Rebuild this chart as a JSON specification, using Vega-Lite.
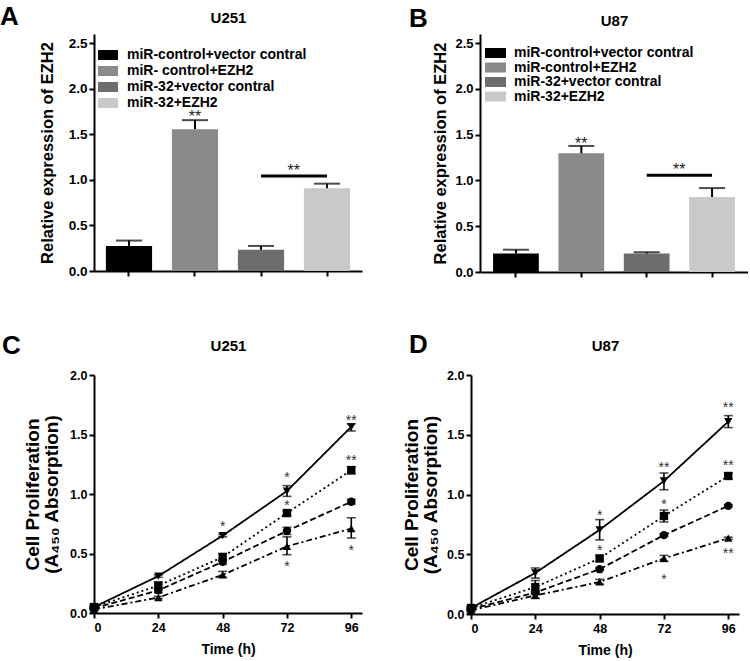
{
  "$schema": "https://vega.github.io/schema/vega-lite/v6.json",
  "padding": {"left": 0, "top": 4, "right": 0, "bottom": 0},
  "background": "white",
  "spacing": 53,
  "resolve": {"scale": {"color": "independent", "shape": "independent", "strokeDash": "independent"}, "legend": {"color": "independent", "shape": "independent", "strokeDash": "independent"}},
  "config": {
    "font": "Liberation Sans",
    "view": {"stroke": null},
    "axis": {
      "domainColor": "black", "domainWidth": 2, "tickColor": "black", "tickWidth": 2, "tickSize": 5,
      "labelFont": "Liberation Sans", "labelFontWeight": "bold", "labelColor": "black", "labelPadding": 2,
      "titleFont": "Liberation Sans", "titleFontWeight": "bold", "titleColor": "black", "grid": false
    },
    "legend": {"labelFont": "Liberation Sans", "labelFontWeight": "bold", "labelColor": "black", "labelFontSize": 14, "padding": 0, "labelLimit": 400},
    "title": {"font": "Liberation Sans", "fontWeight": "bold", "color": "black", "fontSize": 26, "anchor": "start", "frame": "group", "offset": 0, "baseline": "alphabetic"}
  },
  "datasets": {
    "barA": [
      {"group": "miR-control+vector contral", "value": 0.275, "hi": 0.334},
      {"group": "miR- control+EZH2", "value": 1.556, "hi": 1.655},
      {"group": "miR-32+vector contral", "value": 0.232, "hi": 0.275},
      {"group": "miR-32+EZH2", "value": 0.908, "hi": 0.958}
    ],
    "barB": [
      {"group": "miR-control+vector contral", "value": 0.202, "hi": 0.244},
      {"group": "miR-control+EZH2", "value": 1.297, "hi": 1.377},
      {"group": "miR-32+vector contral", "value": 0.202, "hi": 0.216},
      {"group": "miR-32+EZH2", "value": 0.819, "hi": 0.917}
    ],
    "lineC": [
      {"group": "miR-control+vector contral", "time": 0, "value": 0.04, "lo": 0.03, "hi": 0.05},
      {"group": "miR-control+vector contral", "time": 24, "value": 0.19, "lo": 0.17, "hi": 0.21},
      {"group": "miR-control+vector contral", "time": 48, "value": 0.43, "lo": 0.41, "hi": 0.45},
      {"group": "miR-control+vector contral", "time": 72, "value": 0.69, "lo": 0.66, "hi": 0.72},
      {"group": "miR-control+vector contral", "time": 96, "value": 0.935, "lo": 0.915, "hi": 0.955},
      {"group": "miR-32+EZH2", "time": 0, "value": 0.05, "lo": 0.04, "hi": 0.06},
      {"group": "miR-32+EZH2", "time": 24, "value": 0.23, "lo": 0.2, "hi": 0.26},
      {"group": "miR-32+EZH2", "time": 48, "value": 0.47, "lo": 0.44, "hi": 0.5},
      {"group": "miR-32+EZH2", "time": 72, "value": 0.84, "lo": 0.82, "hi": 0.86},
      {"group": "miR-32+EZH2", "time": 96, "value": 1.2, "lo": 1.17, "hi": 1.23},
      {"group": "miR-32+vector contral", "time": 0, "value": 0.03, "lo": 0.02, "hi": 0.04},
      {"group": "miR-32+vector contral", "time": 24, "value": 0.13, "lo": 0.12, "hi": 0.14},
      {"group": "miR-32+vector contral", "time": 48, "value": 0.32, "lo": 0.3, "hi": 0.35},
      {"group": "miR-32+vector contral", "time": 72, "value": 0.56, "lo": 0.49, "hi": 0.64},
      {"group": "miR-32+vector contral", "time": 96, "value": 0.71, "lo": 0.63, "hi": 0.8},
      {"group": "miR-control+EZH2", "time": 0, "value": 0.05, "lo": 0.04, "hi": 0.06},
      {"group": "miR-control+EZH2", "time": 24, "value": 0.31, "lo": 0.3, "hi": 0.32},
      {"group": "miR-control+EZH2", "time": 48, "value": 0.65, "lo": 0.64, "hi": 0.66},
      {"group": "miR-control+EZH2", "time": 72, "value": 1.025, "lo": 0.98, "hi": 1.07},
      {"group": "miR-control+EZH2", "time": 96, "value": 1.565, "lo": 1.53, "hi": 1.59}
    ],
    "lineD": [
      {"group": "miR-control+vector contral", "time": 0, "value": 0.04, "lo": 0.03, "hi": 0.05},
      {"group": "miR-control+vector contral", "time": 24, "value": 0.18, "lo": 0.17, "hi": 0.19},
      {"group": "miR-control+vector contral", "time": 48, "value": 0.375, "lo": 0.365, "hi": 0.385},
      {"group": "miR-control+vector contral", "time": 72, "value": 0.66, "lo": 0.65, "hi": 0.67},
      {"group": "miR-control+vector contral", "time": 96, "value": 0.905, "lo": 0.895, "hi": 0.915},
      {"group": "miR-32+EZH2", "time": 0, "value": 0.05, "lo": 0.04, "hi": 0.06},
      {"group": "miR-32+EZH2", "time": 24, "value": 0.225, "lo": 0.17, "hi": 0.28},
      {"group": "miR-32+EZH2", "time": 48, "value": 0.465, "lo": 0.44, "hi": 0.49},
      {"group": "miR-32+EZH2", "time": 72, "value": 0.82, "lo": 0.77, "hi": 0.87},
      {"group": "miR-32+EZH2", "time": 96, "value": 1.155, "lo": 1.13, "hi": 1.18},
      {"group": "miR-32+vector contral", "time": 0, "value": 0.03, "lo": 0.02, "hi": 0.04},
      {"group": "miR-32+vector contral", "time": 24, "value": 0.155, "lo": 0.13, "hi": 0.18},
      {"group": "miR-32+vector contral", "time": 48, "value": 0.268, "lo": 0.25, "hi": 0.29},
      {"group": "miR-32+vector contral", "time": 72, "value": 0.465, "lo": 0.44, "hi": 0.49},
      {"group": "miR-32+vector contral", "time": 96, "value": 0.634, "lo": 0.625, "hi": 0.643},
      {"group": "miR-control+EZH2", "time": 0, "value": 0.05, "lo": 0.04, "hi": 0.06},
      {"group": "miR-control+EZH2", "time": 24, "value": 0.344, "lo": 0.3, "hi": 0.385},
      {"group": "miR-control+EZH2", "time": 48, "value": 0.704, "lo": 0.62, "hi": 0.79},
      {"group": "miR-control+EZH2", "time": 72, "value": 1.113, "lo": 1.04, "hi": 1.18},
      {"group": "miR-control+EZH2", "time": 96, "value": 1.61, "lo": 1.56, "hi": 1.66}
    ],
    "starsC": [
      {"time": 48, "y": 0.75, "label": "*"},
      {"time": 72, "y": 1.16, "label": "*"},
      {"time": 72, "y": 0.925, "label": "*"},
      {"time": 72, "y": 0.41, "label": "*"},
      {"time": 96, "y": 1.64, "label": "**"},
      {"time": 96, "y": 1.3, "label": "**"},
      {"time": 96, "y": 0.55, "label": "*"}
    ],
    "starsD": [
      {"time": 48, "y": 0.845, "label": "*"},
      {"time": 48, "y": 0.55, "label": "*"},
      {"time": 72, "y": 1.25, "label": "**"},
      {"time": 72, "y": 0.94, "label": "*"},
      {"time": 72, "y": 0.31, "label": "*"},
      {"time": 96, "y": 1.746, "label": "**"},
      {"time": 96, "y": 1.26, "label": "**"},
      {"time": 96, "y": 0.527, "label": "**"}
    ]
  },
  "vconcat": [
    {
      "spacing": 47,
      "resolve": {"scale": {"color": "independent", "shape": "independent", "strokeDash": "independent"}, "legend": {"color": "independent", "shape": "independent", "strokeDash": "independent"}},
      "hconcat": [
        {
          "width": 268, "height": 237,
          "title": {"text": "A", "dx": -94, "dy": 24},
          "resolve": {"axis": {"x": "independent"}},
          "layer": [
            {
              "data": {"name": "barA"},
              "mark": {"type": "bar"},
              "encoding": {
                "x": {"field": "group", "type": "nominal", "scale": {"domain": ["miR-control+vector contral", "miR- control+EZH2", "miR-32+vector contral", "miR-32+EZH2"], "paddingInner": 0.3, "paddingOuter": 0.18}, "axis": {"orient": "bottom", "labels": false, "title": null}},
                "y": {"field": "value", "type": "quantitative", "scale": {"domain": [0, 2.5]}, "axis": {"values": [0, 0.5, 1, 1.5, 2, 2.5], "format": ".1f", "labelFontSize": 13.5, "title": "Relative expression of EZH2", "titleFontSize": 16.5, "titlePadding": 13}},
                "color": {"field": "group", "type": "nominal", "scale": {"domain": ["miR-control+vector contral", "miR- control+EZH2", "miR-32+vector contral", "miR-32+EZH2"], "range": ["#000000", "#8a8a8a", "#6d6d6d", "#c9c9c9"]}, "legend": {"title": null, "orient": "none", "legendX": 7, "legendY": 14, "symbolType": "M-2,-1H2V1H-2Z", "symbolSize": 100, "symbolStrokeWidth": 0, "labelOffset": 12, "rowPadding": 2}}
              }
            },
            {
              "data": {"name": "barA"},
              "mark": {"type": "rule", "strokeWidth": 2, "color": "black"},
              "encoding": {
                "x": {"field": "group", "type": "nominal", "axis": {"orient": "top", "labels": false, "ticks": false, "domain": false, "title": "U251", "titleFontSize": 15, "titlePadding": 9}},
                "y": {"field": "value", "type": "quantitative"},
                "y2": {"field": "hi"}
              }
            },
            {
              "data": {"name": "barA"},
              "mark": {"type": "tick", "thickness": 2, "size": 26, "color": "black", "orient": "horizontal"},
              "encoding": {
                "x": {"field": "group", "type": "nominal", "axis": null},
                "y": {"field": "hi", "type": "quantitative"}
              }
            },
            {
              "data": {"values": [{"group": "miR- control+EZH2", "y": 1.73, "label": "**"}]},
              "mark": {"type": "text", "fontSize": 16, "color": "#222222", "baseline": "middle", "dy": 4},
              "encoding": {
                "x": {"field": "group", "type": "nominal", "axis": null},
                "y": {"field": "y", "type": "quantitative"},
                "text": {"field": "label"}
              }
            },
            {
              "data": {"values": [{"from": "miR-32+vector contral", "to": "miR-32+EZH2", "y": 1.042}]},
              "mark": {"type": "rule", "strokeWidth": 3, "color": "black"},
              "encoding": {
                "x": {"field": "from", "type": "nominal", "axis": null},
                "x2": {"field": "to"},
                "y": {"field": "y", "type": "quantitative"}
              }
            },
            {
              "data": {"values": [{"group": "miR-32+vector contral", "y": 1.14, "label": "**"}]},
              "mark": {"type": "text", "fontSize": 16, "color": "#222222", "baseline": "middle", "dy": 4},
              "encoding": {
                "x": {"field": "group", "type": "nominal", "bandPosition": 1.21, "axis": null},
                "y": {"field": "y", "type": "quantitative"},
                "text": {"field": "label"}
              }
            }
          ]
        },
        {
          "width": 268, "height": 238,
          "title": {"text": "B", "dx": -71, "dy": 23},
          "resolve": {"axis": {"x": "independent"}},
          "layer": [
            {
              "data": {"name": "barB"},
              "mark": {"type": "bar"},
              "encoding": {
                "x": {"field": "group", "type": "nominal", "scale": {"domain": ["miR-control+vector contral", "miR-control+EZH2", "miR-32+vector contral", "miR-32+EZH2"], "paddingInner": 0.3, "paddingOuter": 0.2}, "axis": {"orient": "bottom", "labels": false, "title": null}},
                "y": {"field": "value", "type": "quantitative", "scale": {"domain": [0, 2.5]}, "axis": {"values": [0, 0.5, 1, 1.5, 2, 2.5], "format": ".1f", "labelFontSize": 13, "title": "Relative expression of EZH2", "titleFontSize": 16.5, "titlePadding": 6}},
                "color": {"field": "group", "type": "nominal", "scale": {"domain": ["miR-control+vector contral", "miR-control+EZH2", "miR-32+vector contral", "miR-32+EZH2"], "range": ["#000000", "#8a8a8a", "#6d6d6d", "#c9c9c9"]}, "legend": {"title": null, "orient": "none", "legendX": 8.5, "legendY": 12, "symbolType": "M-2.1,-1H2.1V1H-2.1Z", "symbolSize": 100, "symbolStrokeWidth": 0, "labelOffset": 11.5, "rowPadding": 0.5}}
              }
            },
            {
              "data": {"name": "barB"},
              "mark": {"type": "rule", "strokeWidth": 2, "color": "black"},
              "encoding": {
                "x": {"field": "group", "type": "nominal", "axis": {"orient": "top", "labels": false, "ticks": false, "domain": false, "title": "U87", "titleFontSize": 15, "titlePadding": 6}},
                "y": {"field": "value", "type": "quantitative"},
                "y2": {"field": "hi"}
              }
            },
            {
              "data": {"name": "barB"},
              "mark": {"type": "tick", "thickness": 2, "size": 26, "color": "black", "orient": "horizontal"},
              "encoding": {
                "x": {"field": "group", "type": "nominal", "axis": null},
                "y": {"field": "hi", "type": "quantitative"}
              }
            },
            {
              "data": {"values": [{"group": "miR-control+EZH2", "y": 1.44, "label": "**"}]},
              "mark": {"type": "text", "fontSize": 16, "color": "#222222", "baseline": "middle", "dy": 4},
              "encoding": {
                "x": {"field": "group", "type": "nominal", "axis": null},
                "y": {"field": "y", "type": "quantitative"},
                "text": {"field": "label"}
              }
            },
            {
              "data": {"values": [{"from": "miR-32+vector contral", "to": "miR-32+EZH2", "y": 1.056}]},
              "mark": {"type": "rule", "strokeWidth": 3, "color": "black"},
              "encoding": {
                "x": {"field": "from", "type": "nominal", "axis": null},
                "x2": {"field": "to"},
                "y": {"field": "y", "type": "quantitative"}
              }
            },
            {
              "data": {"values": [{"group": "miR-32+vector contral", "y": 1.16, "label": "**"}]},
              "mark": {"type": "text", "fontSize": 16, "color": "#222222", "baseline": "middle", "dy": 4},
              "encoding": {
                "x": {"field": "group", "type": "nominal", "bandPosition": 1.21, "axis": null},
                "y": {"field": "y", "type": "quantitative"},
                "text": {"field": "label"}
              }
            }
          ]
        }
      ]
    },
    {
      "spacing": 40,
      "resolve": {"scale": {"color": "independent", "shape": "independent", "strokeDash": "independent"}, "legend": {"color": "independent", "shape": "independent", "strokeDash": "independent"}},
      "hconcat": [
        {
          "width": 268, "height": 238,
          "title": {"text": "C", "dx": -92, "dy": 25},
          "resolve": {"axis": {"x": "independent"}},
          "layer": [
            {
              "data": {"name": "lineC"},
              "mark": {"type": "line", "strokeWidth": 1.8, "color": "black"},
              "encoding": {
                "x": {"field": "time", "type": "quantitative", "scale": {"domain": [0, 100]}, "axis": {"values": [0, 24, 48, 72, 96], "labelFontSize": 12.5, "labelPadding": 3, "title": "Time (h)", "titleFontSize": 14, "titlePadding": 9}},
                "y": {"field": "value", "type": "quantitative", "scale": {"domain": [0, 2]}, "axis": {"values": [0, 0.5, 1, 1.5, 2], "format": ".1f", "labelFontSize": 12.5, "title": ["Cell Proliferation", "(A₄₅₀ Absorption)"], "titleFontSize": 19, "titleLineHeight": 19, "titlePadding": 8}},
                "strokeDash": {"field": "group", "type": "nominal", "scale": {"domain": ["miR-control+vector contral", "miR-32+EZH2", "miR-32+vector contral", "miR-control+EZH2"], "range": [[6, 3], [2, 3], [6, 3, 2, 3], [1, 0]]}, "legend": null}
              }
            },
            {
              "data": {"name": "lineC"},
              "mark": {"type": "rule", "strokeWidth": 1.6, "color": "black"},
              "encoding": {
                "x": {"field": "time", "type": "quantitative", "axis": {"orient": "top", "labels": false, "ticks": false, "domain": false, "title": "U251", "titleFontSize": 15, "titlePadding": 22}},
                "y": {"field": "lo", "type": "quantitative"},
                "y2": {"field": "hi"}
              }
            },
            {
              "data": {"name": "lineC"},
              "mark": {"type": "tick", "thickness": 1.6, "size": 9, "color": "black", "orient": "horizontal"},
              "encoding": {
                "x": {"field": "time", "type": "quantitative", "axis": null},
                "y": {"field": "lo", "type": "quantitative"}
              }
            },
            {
              "data": {"name": "lineC"},
              "mark": {"type": "tick", "thickness": 1.6, "size": 9, "color": "black", "orient": "horizontal"},
              "encoding": {
                "x": {"field": "time", "type": "quantitative", "axis": null},
                "y": {"field": "hi", "type": "quantitative"}
              }
            },
            {
              "data": {"name": "lineC"},
              "mark": {"type": "point", "filled": true, "color": "black", "opacity": 1, "size": 70},
              "encoding": {
                "x": {"field": "time", "type": "quantitative", "axis": null},
                "y": {"field": "value", "type": "quantitative"},
                "shape": {"field": "group", "type": "nominal", "scale": {"domain": ["miR-control+vector contral", "miR-32+EZH2", "miR-32+vector contral", "miR-control+EZH2"], "range": ["circle", "square", "triangle-up", "triangle-down"]},
                  "legend": {"title": null, "orient": "none", "legendX": 6, "legendY": -1, "symbolSize": 529, "labelOffset": 5, "rowPadding": 0,
                    "encode": {"symbols": {"update": {
                      "shape": {"signal": "datum.value == 'miR-control+vector contral' ? 'M-1,0H1M0.36,0A0.36,0.36,0,1,1,-0.36,0A0.36,0.36,0,1,1,0.36,0Z' : datum.value == 'miR-32+EZH2' ? 'M-1,0H1M-0.36,-0.36H0.36V0.36H-0.36Z' : datum.value == 'miR-32+vector contral' ? 'M-1,0H1M0,-0.4L0.42,0.32H-0.42Z' : 'M-1,0H1M0,0.4L0.42,-0.32H-0.42Z'"},
                      "strokeDash": {"signal": "datum.value == 'miR-control+vector contral' ? [6,3] : datum.value == 'miR-32+EZH2' ? [2,3] : datum.value == 'miR-32+vector contral' ? [6,3,2,3] : [1,0]"},
                      "fill": {"value": "black"}, "stroke": {"value": "black"}, "strokeWidth": {"value": 1.6}, "opacity": {"value": 1}
                    }}}
                  }
                }
              }
            },
            {
              "data": {"name": "starsC"},
              "mark": {"type": "text", "fontSize": 14, "color": "#333333", "baseline": "middle", "dy": 3},
              "encoding": {
                "x": {"field": "time", "type": "quantitative", "axis": null},
                "y": {"field": "y", "type": "quantitative"},
                "text": {"field": "label"}
              }
            }
          ]
        },
        {
          "width": 268, "height": 239,
          "title": {"text": "D", "dx": -62, "dy": 24},
          "resolve": {"axis": {"x": "independent"}},
          "layer": [
            {
              "data": {"name": "lineD"},
              "mark": {"type": "line", "strokeWidth": 1.8, "color": "black"},
              "encoding": {
                "x": {"field": "time", "type": "quantitative", "scale": {"domain": [0, 100]}, "axis": {"values": [0, 24, 48, 72, 96], "labelFontSize": 12.5, "labelPadding": 3, "title": "Time (h)", "titleFontSize": 14, "titlePadding": 9}},
                "y": {"field": "value", "type": "quantitative", "scale": {"domain": [0, 2]}, "axis": {"values": [0, 0.5, 1, 1.5, 2], "format": ".1f", "labelFontSize": 12.5, "title": ["Cell Proliferation", "(A₄₅₀ Absorption)"], "titleFontSize": 19, "titleLineHeight": 19, "titlePadding": 6}},
                "strokeDash": {"field": "group", "type": "nominal", "scale": {"domain": ["miR-control+vector contral", "miR-32+EZH2", "miR-32+vector contral", "miR-control+EZH2"], "range": [[6, 3], [2, 3], [6, 3, 2, 3], [1, 0]]}, "legend": null}
              }
            },
            {
              "data": {"name": "lineD"},
              "mark": {"type": "rule", "strokeWidth": 1.6, "color": "black"},
              "encoding": {
                "x": {"field": "time", "type": "quantitative", "axis": {"orient": "top", "labels": false, "ticks": false, "domain": false, "title": "U87", "titleFontSize": 15, "titlePadding": 22}},
                "y": {"field": "lo", "type": "quantitative"},
                "y2": {"field": "hi"}
              }
            },
            {
              "data": {"name": "lineD"},
              "mark": {"type": "tick", "thickness": 1.6, "size": 9, "color": "black", "orient": "horizontal"},
              "encoding": {
                "x": {"field": "time", "type": "quantitative", "axis": null},
                "y": {"field": "lo", "type": "quantitative"}
              }
            },
            {
              "data": {"name": "lineD"},
              "mark": {"type": "tick", "thickness": 1.6, "size": 9, "color": "black", "orient": "horizontal"},
              "encoding": {
                "x": {"field": "time", "type": "quantitative", "axis": null},
                "y": {"field": "hi", "type": "quantitative"}
              }
            },
            {
              "data": {"name": "lineD"},
              "mark": {"type": "point", "filled": true, "color": "black", "opacity": 1, "size": 70},
              "encoding": {
                "x": {"field": "time", "type": "quantitative", "axis": null},
                "y": {"field": "value", "type": "quantitative"},
                "shape": {"field": "group", "type": "nominal", "scale": {"domain": ["miR-control+vector contral", "miR-32+EZH2", "miR-32+vector contral", "miR-control+EZH2"], "range": ["circle", "square", "triangle-up", "triangle-down"]},
                  "legend": {"title": null, "orient": "none", "legendX": 6, "legendY": 0, "symbolSize": 576, "labelOffset": 6, "rowPadding": 1,
                    "encode": {"symbols": {"update": {
                      "shape": {"signal": "datum.value == 'miR-control+vector contral' ? 'M-1,0H1M0.34,0A0.34,0.34,0,1,1,-0.34,0A0.34,0.34,0,1,1,0.34,0Z' : datum.value == 'miR-32+EZH2' ? 'M-1,0H1M-0.34,-0.34H0.34V0.34H-0.34Z' : datum.value == 'miR-32+vector contral' ? 'M-1,0H1M0,-0.38L0.4,0.3H-0.4Z' : 'M-1,0H1M0,0.38L0.4,-0.3H-0.4Z'"},
                      "strokeDash": {"signal": "datum.value == 'miR-control+vector contral' ? [6,3] : datum.value == 'miR-32+EZH2' ? [2,3] : datum.value == 'miR-32+vector contral' ? [6,3,2,3] : [1,0]"},
                      "fill": {"value": "black"}, "stroke": {"value": "black"}, "strokeWidth": {"value": 1.6}, "opacity": {"value": 1}
                    }}}
                  }
                }
              }
            },
            {
              "data": {"name": "starsD"},
              "mark": {"type": "text", "fontSize": 14, "color": "#333333", "baseline": "middle", "dy": 3},
              "encoding": {
                "x": {"field": "time", "type": "quantitative", "axis": null},
                "y": {"field": "y", "type": "quantitative"},
                "text": {"field": "label"}
              }
            }
          ]
        }
      ]
    }
  ]
}
